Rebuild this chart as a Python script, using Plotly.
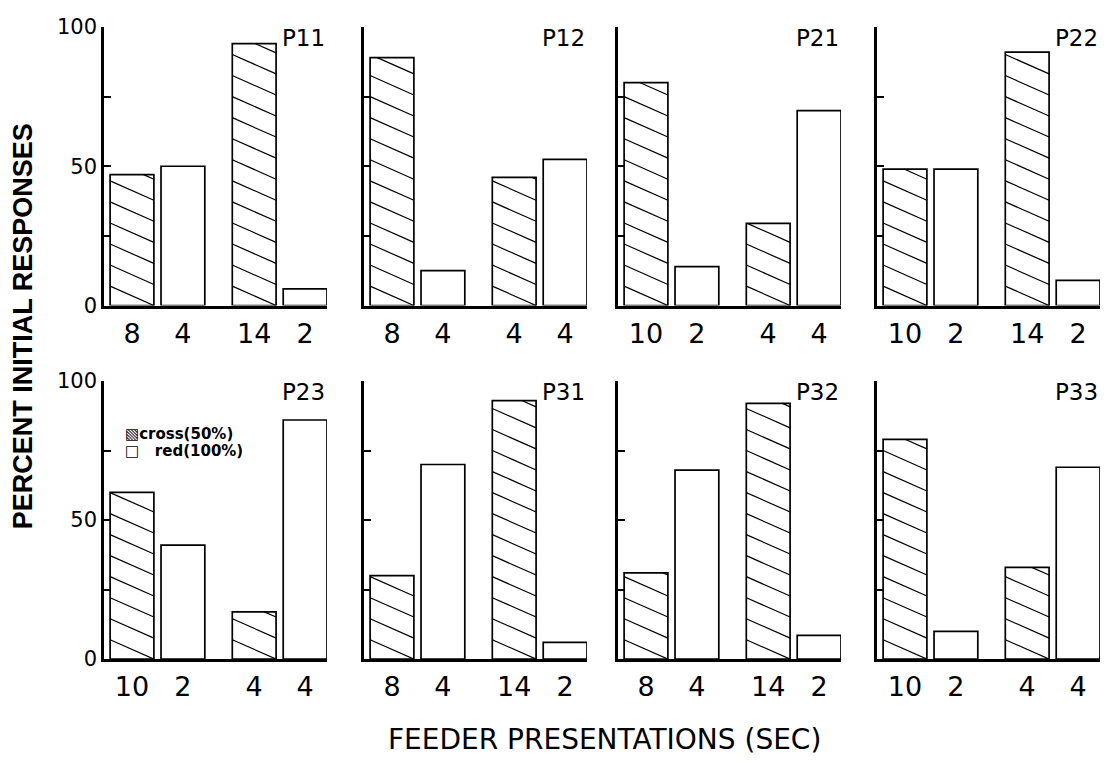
import plotly.graph_objects as go

# Percent of initial responses per pigeon, for the two feeder-presentation pairs
PANELS = ["P11", "P12", "P21", "P22", "P23", "P31", "P32", "P33"]
CROSS_1 = [47, 89, 80, 49, 60, 30, 31, 79]
RED_1 = [50, 12.5, 14, 49, 41, 70, 68, 10]
CROSS_2 = [94, 46, 29.5, 91, 17, 93, 92, 33]
RED_2 = [6, 52.5, 70, 9, 86, 6, 8.5, 69]

# Feeder presentation durations (sec) shown under each bar
FEEDER_SEC = [
    ["8", "4", "14", "2"],
    ["8", "4", "4", "4"],
    ["10", "2", "4", "4"],
    ["10", "2", "14", "2"],
    ["10", "2", "4", "4"],
    ["8", "4", "14", "2"],
    ["8", "4", "14", "2"],
    ["10", "2", "4", "4"],
]

Y_TICKS = [0, 25, 50, 75, 100]
Y_TICK_TEXT = ["0", "", "50", "", "100"]
LEGEND_TEXT = ["\u25A7cross(50%)", "\u25A1   red(100%)"]

# ---- layout geometry -------------------------------------------------------
W, H = 1115, 767
SLOTS = [0.0, 1.0, 2.4, 3.4]          # bar slots: two pairs with a gap between
BAR_W = 0.86
X_RANGE = [-0.55, 3.83]
COL_LEFT_PX = [104, 364, 618, 877]
PANEL_W_PX = 223
ROW_PX = [(15.5, 303), (381, 668)]    # (top of axis, baseline) per row
HATCH_STEP = 7.56                     # vertical spacing of hatch lines (data units)
HATCH_DROP = 6.97                     # fall of a hatch line across one bar

NUM_FONT = "DejaVu Sans"
TITLE_FONT = "Liberation Sans"

fig = go.Figure()


def hatch_segments(xc, h):
    """Diagonal (upper-left to lower-right) hatch lines clipped to a bar."""
    xl, xr = xc - BAR_W / 2, xc + BAR_W / 2
    xs, ys = [], []
    k = 0
    while k * HATCH_STEP < h - 0.3:
        y_r = k * HATCH_STEP
        y_l = y_r + HATCH_DROP
        x0, y0 = xl, y_l
        if y_l > h:
            x0 = xl + (y_l - h) / HATCH_DROP * BAR_W
            y0 = h
        xs += [x0, xr, None]
        ys += [y0, y_r, None]
        k += 1
    return xs, ys


for i, name in enumerate(PANELS):
    row, col = divmod(i, 4)
    n = i + 1
    xa = "x" if n == 1 else f"x{n}"
    ya = "y" if n == 1 else f"y{n}"
    xkey = "xaxis" if n == 1 else f"xaxis{n}"
    ykey = "yaxis" if n == 1 else f"yaxis{n}"

    vals = [CROSS_1[i], RED_1[i], CROSS_2[i], RED_2[i]]

    fig.add_trace(go.Bar(
        x=SLOTS, y=vals, width=BAR_W, xaxis=xa, yaxis=ya,
        marker=dict(color="white", line=dict(color="black", width=1.7)),
        hoverinfo="skip", showlegend=False,
    ))

    hx, hy = [], []
    for slot_idx in (0, 2):
        sx, sy = hatch_segments(SLOTS[slot_idx], vals[slot_idx])
        hx += sx
        hy += sy
    fig.add_trace(go.Scatter(
        x=hx, y=hy, mode="lines", xaxis=xa, yaxis=ya,
        line=dict(color="black", width=1.2),
        hoverinfo="skip", showlegend=False,
    ))

    left = COL_LEFT_PX[col]
    top_px, base_px = ROW_PX[row]
    fig.layout[xkey] = dict(
        domain=[left / W, (left + PANEL_W_PX) / W],
        range=X_RANGE, anchor=ya,
        showline=True, linecolor="black", linewidth=2.5,
        showgrid=False, zeroline=False, ticks="",
        tickmode="array", tickvals=SLOTS, ticktext=FEEDER_SEC[i],
        tickfont=dict(family=NUM_FONT, size=27, color="black"),
        ticklabelstandoff=2,
        fixedrange=True,
    )
    fig.layout[ykey] = dict(
        domain=[(H - base_px) / H, (H - top_px) / H],
        range=[0, 100], anchor=xa,
        showline=True, linecolor="black", linewidth=2.5,
        showgrid=False, zeroline=False,
        ticks="inside", ticklen=7, tickwidth=1.5, tickcolor="black",
        tickmode="array", tickvals=Y_TICKS, ticktext=Y_TICK_TEXT,
        showticklabels=(col == 0),
        tickfont=dict(family=NUM_FONT, size=21, color="black"),
        fixedrange=True,
    )

    fig.add_annotation(
        x=3.36, y=96, xref=xa, yref=ya, text=name, showarrow=False,
        xanchor="center", yanchor="middle",
        font=dict(family=NUM_FONT, size=23, color="black"),
    )

    if name == "P23":
        for text, yv in zip(LEGEND_TEXT, [80.8, 75.0]):
            fig.add_annotation(
                x=-0.17, y=yv, xref=xa, yref=ya, text=text, showarrow=False,
                xanchor="left", yanchor="middle",
                font=dict(family=NUM_FONT, size=15, color="black", weight="bold"),
            )

fig.add_annotation(
    x=22.5 / W, y=(H - 325) / H, xref="paper", yref="paper",
    text="PERCENT INITIAL RESPONSES", textangle=-90, showarrow=False,
    xanchor="center", yanchor="middle",
    font=dict(family=TITLE_FONT, size=27, color="black", weight="bold"),
)
fig.add_annotation(
    x=604 / W, y=(H - 751) / H, xref="paper", yref="paper",
    text="FEEDER PRESENTATIONS (SEC)", showarrow=False,
    xanchor="center", yanchor="middle",
    font=dict(family=NUM_FONT, size=28, color="black"),
)

fig.update_layout(
    width=W, height=H,
    margin=dict(l=0, r=0, t=0, b=0),
    paper_bgcolor="white", plot_bgcolor="white",
    showlegend=False,
)

fig.write_html("out.html")
